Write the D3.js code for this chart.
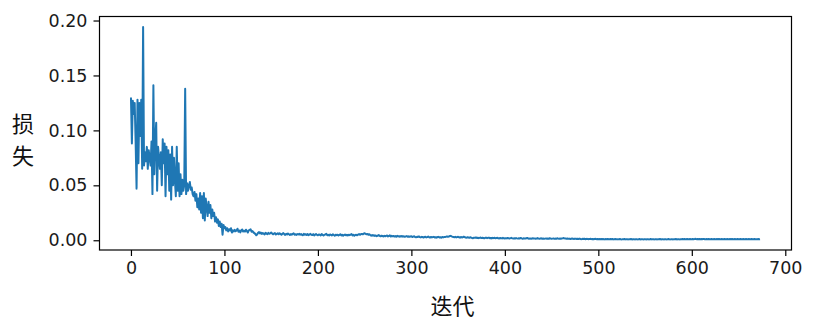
<!DOCTYPE html>
<html>
<head>
<meta charset="utf-8">
<script src="https://cdn.jsdelivr.net/npm/d3@7"></script>
<style>
  html, body { margin: 0; padding: 0; background: #fff; }
  svg { display: block; }
</style>
</head>
<body>
<svg id="chart" width="813" height="324"></svg>
<script>
// ---- data ----
const xTicks = [0, 100, 200, 300, 400, 500, 600, 700];
const yTicks = [0.00, 0.05, 0.10, 0.15, 0.20];
const yLabelChars = ["损", "失"];
const xLabel = "迭代";
const lossEarly = [
  0.130,0.088,0.127,0.115,0.125,0.090,0.047,0.128,0.070,0.125,
  0.095,0.128,0.065,0.194,0.068,0.080,0.072,0.085,0.065,0.082,
  0.075,0.068,0.090,0.042,0.141,0.060,0.092,0.107,0.045,0.085,
  0.075,0.065,0.080,0.050,0.092,0.070,0.088,0.040,0.085,0.060,
  0.082,0.045,0.078,0.037,0.085,0.050,0.075,0.055,0.040,0.085,
  0.045,0.070,0.040,0.060,0.042,0.055,0.045,0.050,0.138,0.042,
  0.052,0.045,0.050,0.053,0.046,0.048,0.042,0.040,0.044,0.036,
  0.042,0.030,0.038,0.028,0.043,0.025,0.040,0.020,0.043,0.018,
  0.038,0.030,0.022,0.035,0.025,0.032,0.020,0.028,0.022,0.025,
  0.017,0.021,0.016,0.019,0.013,0.017,0.012,0.015,0.005,0.014,
  0.011,0.012,0.009,0.011,0.008,0.010,0.009,0.011,0.007,0.009,0.008
];
const lossLate = [
  0.0095,0.0082,0.0090,0.0105,0.0078,0.0088,0.0072,0.0091,0.0098,0.0080,
  0.0087,0.0079,0.0096,0.0085,0.0070,0.0088,0.0095,0.0100,0.0078,0.0084,
  0.0072,0.0065,0.0058,0.0045,0.0052,0.0068,0.0074,0.0062,0.0070,0.0058,
  0.0066,0.0060,0.0053,0.0068,0.0061,0.0055,0.0067,0.0059,0.0063,0.0070,
  0.0062,0.0054,0.0060,0.0066,0.0052,0.0058,0.0063,0.0055,0.0064,0.0057,
  0.0050,0.0059,0.0065,0.0056,0.0049,0.0058,0.0052,0.0062,0.0055,0.0048,
  0.0056,0.0051,0.0059,0.0063,0.0050,0.0055,0.0049,0.0057,0.0052,0.0058,
  0.0051,0.0056,0.0049,0.0045,0.0058,0.0050,0.0055,0.0048,0.0057,0.0046,
  0.0052,0.0058,0.0050,0.0047,0.0056,0.0044,0.0051,0.0057,0.0049,0.0045,
  0.0052,0.0050,0.0044,0.0056,0.0049,0.0043,0.0051,0.0053,0.0058,0.0045,
  0.0050,0.0044,0.0052,0.0049,0.0043,0.0055,0.0048,0.0042,0.0050,0.0046,
  0.0051,0.0043,0.0049,0.0055,0.0044,0.0050,0.0042,0.0048,0.0052,0.0045,
  0.0049,0.0043,0.0050,0.0046,0.0051,0.0056,0.0044,0.0049,0.0042,0.0048,
  0.0050,0.0045,0.0052,0.0056,0.0050,0.0055,0.0058,0.0054,0.0060,0.0064,
  0.0058,0.0054,0.0058,0.0050,0.0055,0.0047,0.0042,0.0048,0.0041,0.0046,
  0.0040,0.0043,0.0037,0.0042,0.0047,0.0040,0.0036,0.0042,0.0039,0.0035,
  0.0041,0.0036,0.0040,0.0043,0.0035,0.0039,0.0045,0.0034,0.0040,0.0036,
  0.0039,0.0034,0.0038,0.0033,0.0040,0.0037,0.0032,0.0038,0.0034,0.0039,
  0.0033,0.0037,0.0031,0.0035,0.0038,0.0032,0.0036,0.0031,0.0034,0.0037,
  0.0030,0.0033,0.0036,0.0029,0.0027,0.0032,0.0030,0.0035,0.0029,0.0026,
  0.0031,0.0029,0.0025,0.0030,0.0032,0.0026,0.0029,0.0034,0.0028,0.0025,
  0.0030,0.0026,0.0029,0.0031,0.0025,0.0028,0.0024,0.0029,0.0031,0.0025,
  0.0028,0.0024,0.0030,0.0026,0.0029,0.0030,0.0032,0.0035,0.0031,0.0034,
  0.0038,0.0040,0.0035,0.0032,0.0030,0.0028,0.0031,0.0026,0.0029,0.0032,
  0.0027,0.0024,0.0030,0.0026,0.0028,0.0033,0.0029,0.0025,0.0023,0.0028,
  0.0025,0.0022,0.0027,0.0024,0.0021,0.0019,0.0024,0.0022,0.0026,0.0021,
  0.0023,0.0019,0.0022,0.0025,0.0020,0.0023,0.0021,0.0018,0.0022,0.0024,
  0.0019,0.0022,0.0024,0.0018,0.0021,0.0017,0.0022,0.0019,0.0023,0.0018,
  0.0020,0.0023,0.0018,0.0016,0.0021,0.0019,0.0017,0.0022,0.0018,0.0016,
  0.0019,0.0017,0.0021,0.0018,0.0016,0.0019,0.0022,0.0017,0.0015,0.0018,
  0.0016,0.0020,0.0017,0.0015,0.0018,0.0016,0.0021,0.0017,0.0014,0.0018,
  0.0016,0.0015,0.0018,0.0021,0.0016,0.0014,0.0017,0.0013,0.0016,0.0018,
  0.0015,0.0017,0.0014,0.0016,0.0020,0.0015,0.0013,0.0016,0.0018,0.0014,
  0.0016,0.0013,0.0015,0.0017,0.0014,0.0016,0.0013,0.0019,0.0015,0.0013,
  0.0015,0.0017,0.0013,0.0015,0.0014,0.0018,0.0015,0.0013,0.0016,0.0014,
  0.0017,0.0018,0.0020,0.0017,0.0016,0.0014,0.0016,0.0013,0.0015,0.0012,
  0.0014,0.0016,0.0013,0.0012,0.0015,0.0013,0.0011,0.0014,0.0012,0.0015,
  0.0012,0.0010,0.0013,0.0011,0.0014,0.0010,0.0012,0.0013,0.0010,0.0012,
  0.0011,0.0013,0.0010,0.0012,0.0009,0.0011,0.0013,0.0010,0.0012,0.0009,
  0.0011,0.0010,0.0012,0.0009,0.0011,0.0010,0.0008,0.0011,0.0010,0.0012,
  0.0009,0.0010,0.0012,0.0009,0.0011,0.0008,0.0010,0.0011,0.0009,0.0010,
  0.0008,0.0010,0.0011,0.0009,0.0008,0.0010,0.0009,0.0011,0.0008,0.0010,
  0.0009,0.0008,0.0010,0.0009,0.0011,0.0008,0.0009,0.0010,0.0008,0.0009,
  0.0010,0.0008,0.0009,0.0011,0.0008,0.0009,0.0010,0.0008,0.0009,0.0010,
  0.0008,0.0009,0.0010,0.0008,0.0009,0.0011,0.0008,0.0010,0.0009,0.0008,
  0.0010,0.0009,0.0008,0.0010,0.0009,0.0011,0.0008,0.0009,0.0010,0.0008,
  0.0009,0.0010,0.0008,0.0009,0.0011,0.0009,0.0008,0.0010,0.0009,0.0008,
  0.0010,0.0009,0.0011,0.0008,0.0009,0.0010,0.0008,0.0009,0.0010,0.0012,
  0.0010,0.0011,0.0009,0.0010,0.0012,0.0009,0.0010,0.0011,0.0009,0.0010,
  0.0012,0.0010,0.0011,0.0013,0.0010,0.0011,0.0009,0.0012,0.0010,0.0011,
  0.0009,0.0011,0.0012,0.0010,0.0009,0.0011,0.0010,0.0012,0.0009,0.0010,
  0.0011,0.0009,0.0010,0.0012,0.0010,0.0009,0.0011,0.0010,0.0012,0.0009,
  0.0010,0.0011,0.0009,0.0010,0.0012,0.0010,0.0009,0.0011,0.0010,0.0009,
  0.0011,0.0010,0.0012,0.0009,0.0010,0.0011,0.0009,0.0010,0.0011,0.0009,
  0.0010,0.0012,0.0009,0.0010,0.0011,0.0009,0.0010,0.0011,0.0009,0.0010,
  0.0011,0.0009,0.0010,0.0012,0.0010,0.0009,0.0011,0.0010,0.0009,0.0010,
  0.0011,0.0009,0.0010
];
const loss = lossEarly.concat(lossLate);

// ---- layout ----
const W = 813, H = 324;
const plot = { left: 99.5, right: 791.5, top: 16.5, bottom: 250 };

const svg = d3.select("#chart");

// matplotlib-like 5% margins
const n = loss.length;
const xPad = (n - 1) * 0.05;
const yMin = d3.min(loss), yMax = d3.max(loss);
const yPad = (yMax - yMin) * 0.05;

const x = d3.scaleLinear().domain([0 - xPad, (n - 1) + xPad]).range([plot.left, plot.right]);
const y = d3.scaleLinear().domain([yMin - yPad, yMax + yPad]).range([plot.bottom, plot.top]);

// line
const line = d3.line().x((d, i) => x(i)).y(d => y(d));
svg.append("path")
  .datum(loss)
  .attr("fill", "none")
  .attr("stroke", "#1f77b4")
  .attr("stroke-width", 2)
  .attr("stroke-linejoin", "round")
  .attr("d", line);

// axes
const tickFont = "'DejaVu Sans', sans-serif";
const xAxis = d3.axisBottom(x).tickValues(xTicks).tickFormat(d3.format("d")).tickSizeOuter(0).tickSize(6).tickPadding(6);
const yAxis = d3.axisLeft(y).tickValues(yTicks).tickFormat(d3.format(".2f")).tickSizeOuter(0).tickSize(6).tickPadding(6);

const gx = svg.append("g").attr("transform", `translate(0,${plot.bottom})`).call(xAxis);
const gy = svg.append("g").attr("transform", `translate(${plot.left},0)`).call(yAxis);
[gx, gy].forEach(g => {
  g.select(".domain").remove();
  g.selectAll(".tick line").attr("stroke", "#000").attr("stroke-width", 1.2);
  g.selectAll(".tick text").attr("fill", "#1a1a1a").style("font-family", tickFont).style("font-size", "17.5px");
});

// frame
svg.append("rect")
  .attr("x", plot.left).attr("y", plot.top)
  .attr("width", plot.right - plot.left).attr("height", plot.bottom - plot.top)
  .attr("fill", "none").attr("stroke", "#000").attr("stroke-width", 1.2);

// axis labels
const cjk = "'Noto Sans CJK SC', sans-serif";
svg.append("text")
  .attr("x", (plot.left + plot.right) / 2 + 7).attr("y", 314)
  .attr("text-anchor", "middle")
  .style("font-family", cjk).style("font-size", "22px").attr("fill", "#111")
  .text(xLabel);

svg.selectAll(".ylab").data(yLabelChars).enter().append("text")
  .attr("class", "ylab")
  .attr("x", 23)
  .attr("y", (d, i) => 132 + i * 32)
  .attr("text-anchor", "middle")
  .style("font-family", cjk).style("font-size", "22px").attr("fill", "#111")
  .text(d => d);
</script>
</body>
</html>
